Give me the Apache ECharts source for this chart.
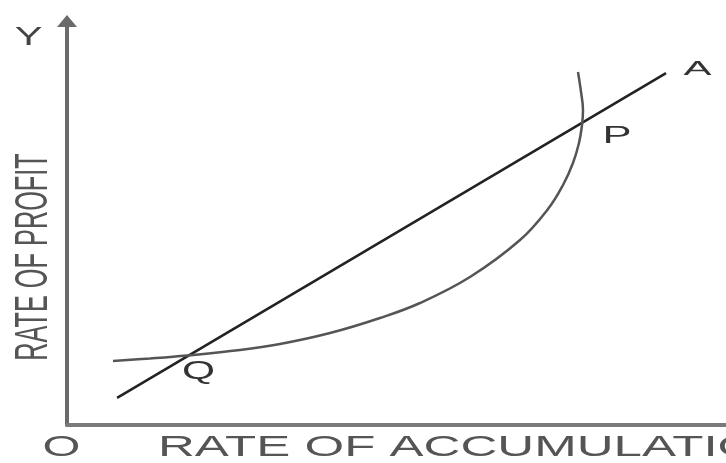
<!DOCTYPE html>
<html>
<head>
<meta charset="utf-8">
<script src="https://cdn.jsdelivr.net/npm/echarts@6/dist/echarts.min.js"></script>
<style>
html, body { margin: 0; background: #fff; }
#main { width: 726px; height: 463px; }
</style>
</head>
<body>
<div id="main"></div>
<script>
var chartDom = document.getElementById('main');
var myChart = echarts.init(chartDom);
var option;

// straight line from near O up to A
let lineOA = [[7.6, 6.7], [90.9, 87.1]];
// the curve, flat at first then bending back near the top
let curve = [
  [6.98, 15.84], [12.59, 16.46], [18.21, 17.20], [26.25, 18.56], [32.32, 20.05],
  [39.91, 22.77], [47.50, 26.49], [53.57, 30.20], [61.15, 36.63], [68.74, 45.79],
  [72.99, 53.47], [75.27, 59.41], [76.78, 64.85], [77.69, 69.80], [78.15, 74.26],
  [78.30, 77.97], [78.00, 82.43], [77.54, 87.38]
];
let pointQ = [18.2, 17.4];
let pointP = [78.3, 75.2];
let xTitle = 'RATE OF ACCUMULATION';
let yTitle = 'RATE OF PROFIT';

let font = 'Liberation Sans';

option = {
  animation: false,
  grid: { left: 67, right: 0, top: 21, bottom: 38 },
  xAxis: {
    type: 'value', min: 0, max: 100,
    axisLine: { lineStyle: { color: '#7a7a7a', width: 4 } },
    axisTick: { show: false }, axisLabel: { show: false }, splitLine: { show: false }
  },
  yAxis: {
    type: 'value', min: 0, max: 100,
    axisLine: {
      show: true,
      symbol: ['none', 'triangle'],
      symbolSize: [20, 12],
      lineStyle: { color: '#6a6a6a', width: 4 }
    },
    axisTick: { show: false }, axisLabel: { show: false }, splitLine: { show: false }
  },
  series: [
    {
      name: 'OA', type: 'line', data: lineOA,
      symbol: 'none',
      lineStyle: { color: '#222', width: 2.5 }
    },
    {
      name: 'curve', type: 'line', data: curve,
      symbol: 'none', smooth: 0.4,
      lineStyle: { color: '#555', width: 2.5 }
    }
  ]
};

option && myChart.setOption(option);

function txt(text, x, y, size, sx, color, rot) {
  return {
    type: 'text', x: x, y: y, scaleX: sx, rotation: rot || 0,
    style: {
      text: text, fill: color,
      font: size + 'px "' + font + '"',
      textAlign: 'center', textVerticalAlign: 'middle'
    }
  };
}

let pA = myChart.convertToPixel({ gridIndex: 0 }, lineOA[1]);
let pP = myChart.convertToPixel({ gridIndex: 0 }, pointP);
let pQ = myChart.convertToPixel({ gridIndex: 0 }, pointQ);

myChart.setOption({
  graphic: [
    {
      type: 'text', x: 158, y: 447.5, scaleX: 1.76,
      style: {
        text: xTitle, fill: '#555',
        font: '29px "' + font + '"',
        textAlign: 'left', textVerticalAlign: 'middle'
      }
    },
    txt(yTitle, 34, 257, 46, 0.55, '#555', Math.PI / 2),
    txt('O', 61.5, 447.5, 29, 1.68, '#555'),
    txt('Y', 28.5, 37.5, 26, 1.6, '#444'),
    txt('A', pA[0] + 31.5, pA[1] - 3.5, 21, 2.0, '#333'),
    txt('P', pP[0] + 34, pP[1] + 15.5, 23, 1.9, '#333'),
    txt('Q', pQ[0] + 11.5, pQ[1] + 17.5, 25, 1.7, '#333')
  ]
});
</script>
</body>
</html>
